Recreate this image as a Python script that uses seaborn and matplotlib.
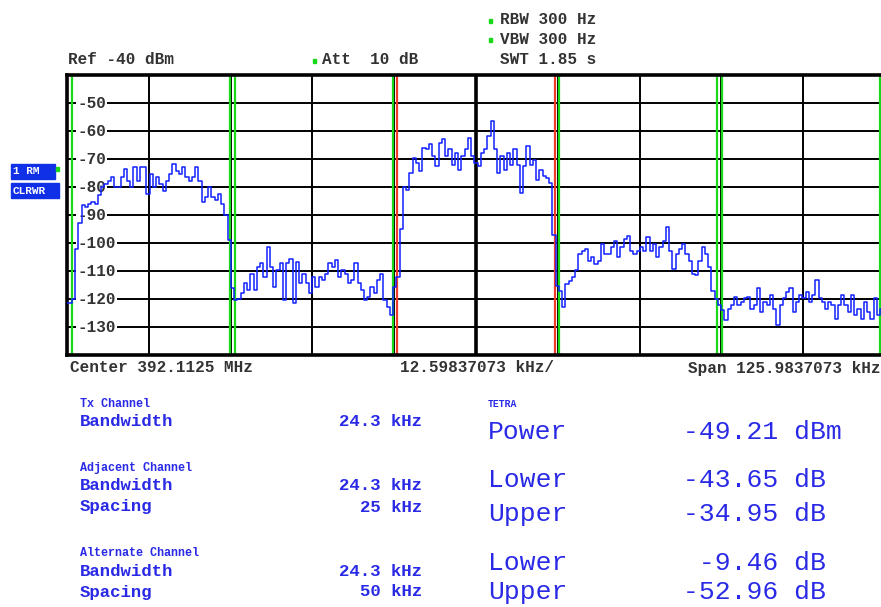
import numpy as np
import pandas as pd
import seaborn as sns
import matplotlib.pyplot as plt
from matplotlib.patches import Rectangle

# trace: level (dBm) at each sweep point, 0.5 kHz apart, -63 .. +63 kHz around centre
level_dbm = [
    -121.6, -121.6, -120.0, -102.0, -93.0, -86.6, -87.2, -86.0, -85.4, -86.0,
    -83.0, -80.0, -78.9, -77.7, -76.5, -80.0, -80.0, -76.5, -73.6, -77.7,
    -80.0, -73.0, -77.7, -73.0, -73.0, -82.5, -75.3, -80.0, -76.5, -78.9,
    -81.3, -77.7, -75.3, -71.8, -74.2, -75.3, -73.0, -76.5, -77.7, -76.5,
    -73.0, -77.7, -85.5, -83.6, -80.0, -83.6, -84.8, -82.5, -86.0, -90.0,
    -99.0, -116.0, -120.4, -120.0, -118.0, -114.4, -116.8, -111.0, -116.8, -108.5,
    -107.3, -112.0, -101.4, -108.5, -115.6, -109.7, -107.3, -120.4, -107.3, -105.6,
    -121.5, -106.7, -114.4, -110.9, -114.4, -118.0, -112.1, -115.6, -112.1, -113.3,
    -110.9, -107.3, -108.5, -106.2, -112.1, -109.7, -110.9, -114.4, -113.3, -107.3,
    -114.4, -116.8, -120.4, -119.2, -115.6, -118.0, -113.3, -110.9, -120.4, -122.7,
    -125.7, -115.6, -112.0, -95.0, -80.0, -81.0, -75.0, -69.6, -71.4, -74.4,
    -66.0, -66.6, -64.8, -69.0, -72.6, -64.2, -63.0, -69.0, -66.6, -72.0,
    -67.8, -73.8, -69.0, -66.6, -62.4, -69.0, -71.4, -72.6, -67.8, -66.6,
    -61.8, -56.4, -66.6, -75.0, -69.0, -73.8, -67.8, -72.0, -66.6, -72.0,
    -82.2, -72.6, -65.4, -72.0, -70.2, -77.4, -73.8, -76.2, -76.8, -78.6,
    -97.0, -115.2, -117.0, -122.9, -114.6, -113.4, -112.2, -109.8, -103.9, -102.7,
    -102.1, -106.3, -105.1, -107.5, -106.3, -100.4, -103.9, -103.9, -101.5, -99.2,
    -105.1, -101.5, -98.6, -97.4, -102.7, -103.9, -102.7, -101.5, -102.7, -98.0,
    -102.7, -100.4, -105.1, -101.5, -99.2, -94.4, -102.7, -109.3, -103.9, -102.1,
    -100.4, -103.9, -106.3, -111.0, -111.6, -106.3, -101.5, -104.0, -108.7, -117.0,
    -120.0, -122.2, -124.0, -127.6, -123.4, -122.2, -119.2, -122.2, -121.0, -119.8,
    -119.2, -123.4, -122.2, -116.2, -124.6, -121.0, -122.2, -118.6, -123.4, -129.4,
    -122.2, -119.8, -117.4, -116.2, -124.6, -121.0, -118.6, -119.8, -117.4, -121.0,
    -118.6, -113.2, -119.8, -121.0, -123.4, -121.0, -122.2, -127.0, -122.2, -118.6,
    -122.2, -124.6, -118.6, -125.8, -123.4, -127.0, -121.0, -124.6, -127.0, -119.8,
    -125.8, -123.4, -123.0,
]
freq_khz = np.linspace(-63.0, 63.0, len(level_dbm))

span_khz = 125.9837073
ref_dbm = -40
db_per_div = 10
level_ticks = [-50, -60, -70, -80, -90, -100, -110, -120, -130]

# channel settings
tx_bw = 24.3
adj_spacing = 25
alt_spacing = 50

header_texts = ["Ref -40 dBm", "Att  10 dB", "RBW 300 Hz", "VBW 300 Hz", "SWT 1.85 s"]
bottom_texts = ["Center 392.1125 MHz", "12.59837073 kHz/", "Span 125.9837073 kHz"]
result_labels = ["Power", "Lower", "Upper", "Lower", "Upper"]
result_values = ["-49.21 dBm", "-43.65 dB", "-34.95 dB", " -9.46 dB", "-52.96 dB"]

sns.set_style("white")
plt.rcParams['font.family'] = ['Liberation Mono', 'DejaVu Sans Mono']

W, H = 881, 607
fig = plt.figure(figsize=(W / 100, H / 100), dpi=100)
ax = fig.add_axes([67 / W, 1 - 355 / H, 818 / W, 280 / H])


def fx(x):
    return x / W


def fy(y):
    return 1 - y / H


df = pd.DataFrame({'freq': freq_khz, 'level': level_dbm})

half = span_khz / 2
ax.set_xlim(-half, half)
ax.set_ylim(ref_dbm - 10 * db_per_div, ref_dbm)

# grid
ax.set_xticks(np.linspace(-half, half, 11))
ax.set_yticks(np.arange(ref_dbm - 10 * db_per_div, ref_dbm + 1, db_per_div))
ax.grid(True, color='black', lw=1.4, zorder=1)
ax.set_axisbelow(True)
ax.tick_params(length=0, labelbottom=False, labelleft=False)
ax.axvline(0, color='black', lw=2.6, zorder=1)
for s in ax.spines.values():
    s.set_linewidth(2.6)
    s.set_color('black')

# channel limit lines
green = '#19d919'
red = '#f03a2a'
for edge in [-tx_bw / 2, tx_bw / 2]:
    ax.axvline(edge, color=red, lw=1.6, zorder=2)
for sp in [adj_spacing, alt_spacing]:
    for sign in [-1, 1]:
        for edge in [sp - tx_bw / 2, sp + tx_bw / 2]:
            ax.axvline(sign * edge, color=green, lw=1.6, zorder=2)

# level labels inside the plot
for lv in level_ticks:
    ax.text(0.0125, lv, str(lv), transform=ax.get_yaxis_transform(),
            ha='left', va='center', fontsize=11.5, fontweight='bold',
            color='#333333', zorder=3,
            bbox=dict(facecolor='white', edgecolor='none', pad=0.6))

sns.lineplot(data=df, x='freq', y='level', ax=ax, color='#1020ff', lw=1.1,
             drawstyle='steps-mid', estimator=None, zorder=4)
ax.set_xlabel('')
ax.set_ylabel('')

# header
hdr = dict(fontsize=11.5, fontweight='bold', color='#333333', va='center', ha='left')
fig.text(fx(68), fy(60), header_texts[0], **hdr)
fig.text(fx(322), fy(60), header_texts[1], **hdr)
fig.text(fx(500), fy(20), header_texts[2], **hdr)
fig.text(fx(500), fy(39), header_texts[3], **hdr)
fig.text(fx(500), fy(60), header_texts[4], **hdr)
for (dx, dy) in [(314, 61), (491, 21), (491, 40)]:
    fig.patches.append(Rectangle((fx(dx) - 1.5 / W, fy(dy) - 1.5 / H), 3 / W, 3 / H,
                                 transform=fig.transFigure, color=green))

fig.text(fx(70), fy(368), bottom_texts[0], **hdr)
fig.text(fx(400), fy(368), bottom_texts[1], **hdr)
fig.text(fx(688), fy(368), bottom_texts[2], **hdr)

# trace info boxes
for (x0, y0, x1, y1, txt) in [(11, 164, 55, 179, "1 RM"), (11, 183, 59, 198, "CLRWR")]:
    fig.patches.append(Rectangle((fx(x0), fy(y1)), (x1 - x0) / W, (y1 - y0) / H,
                                 transform=fig.transFigure, color='#1030e8'))
    fig.text(fx(x0 + 2), fy((y0 + y1) / 2), txt, color='white', fontsize=8,
             fontweight='bold', va='center', ha='left')
fig.patches.append(Rectangle((fx(57) - 1.5 / W, fy(169) - 1.5 / H), 3 / W, 3 / H,
                             transform=fig.transFigure, color=green))

# channel table
blue = '#2a2ae6'
small = dict(fontsize=12.5, fontweight='bold', color=blue, va='center')
head = dict(fontsize=8.5, fontweight='bold', color=blue, va='center', ha='left')
fig.text(fx(80), fy(404), "Tx Channel", **head)
fig.text(fx(80), fy(422), "Bandwidth", ha='left', **small)
fig.text(fx(422), fy(422), "24.3 kHz", ha='right', **small)
fig.text(fx(80), fy(468), "Adjacent Channel", **head)
fig.text(fx(80), fy(486), "Bandwidth", ha='left', **small)
fig.text(fx(422), fy(486), "24.3 kHz", ha='right', **small)
fig.text(fx(80), fy(507), "Spacing", ha='left', **small)
fig.text(fx(422), fy(507), "25 kHz", ha='right', **small)
fig.text(fx(80), fy(553), "Alternate Channel", **head)
fig.text(fx(80), fy(571), "Bandwidth", ha='left', **small)
fig.text(fx(422), fy(571), "24.3 kHz", ha='right', **small)
fig.text(fx(80), fy(592), "Spacing", ha='left', **small)
fig.text(fx(422), fy(592), "50 kHz", ha='right', **small)

fig.text(fx(488), fy(404), "TETRA", fontsize=7, fontweight='bold', color=blue,
         va='center', ha='left')
big = dict(fontsize=19, color=blue, va='center', ha='left')
for lab, val, yy in zip(result_labels, result_values, [432, 480, 514, 563, 592]):
    fig.text(fx(488), fy(yy), lab, **big)
    fig.text(fx(683), fy(yy), val, **big)

fig.savefig("out.png", dpi=100)
